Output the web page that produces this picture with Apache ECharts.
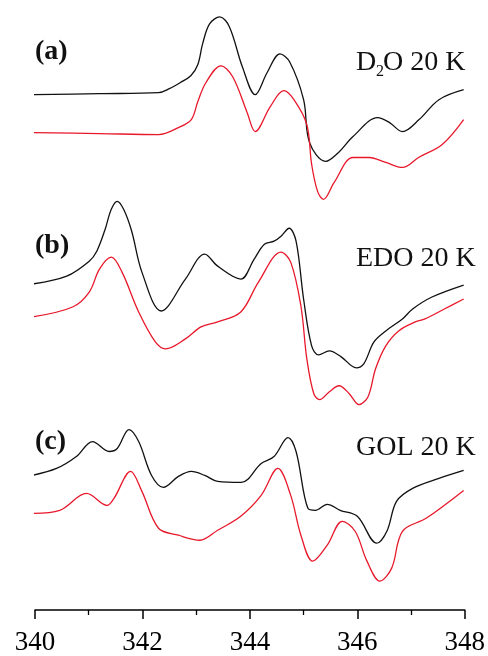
<!DOCTYPE html>
<html>
<head>
<meta charset="utf-8">
<script src="https://cdn.jsdelivr.net/npm/echarts@6/dist/echarts.min.js"></script>
<style>html,body{margin:0;padding:0;background:#fff}#c{width:488px;height:656px}</style>
</head>
<body>
<div id="c"></div>
<script>
// Magnetic field (mT) vs. EPR signal (arbitrary units, offset per trace)
const xTicks = [340, 342, 344, 346, 348];

const d2oBlack = [[339.94,517],[341.20,518],[342.30,519],[342.50,523],[342.70,529],[342.90,536],[343.03,547],[343.12,568],[343.25,588],[343.44,595],[343.62,585],[343.86,545],[344.10,517],[344.32,539],[344.56,558],[344.74,550],[345.00,512],[345.11,469],[345.41,450],[345.65,459],[345.92,475],[346.38,494],[346.60,489],[346.84,480],[347.15,492],[347.52,512],[347.98,522]];
const d2oRed = [[339.94,479],[341.20,478],[342.30,477],[342.67,484],[342.91,492],[343.03,510],[343.18,529],[343.46,546],[343.68,535],[343.95,499],[344.10,480],[344.38,505],[344.63,521],[344.82,512],[345.06,487],[345.15,447],[345.26,420],[345.37,412],[345.57,429],[345.92,454],[346.22,454],[346.53,449],[346.84,444],[347.14,454],[347.58,467],[347.98,492]];

const edoBlack = [[339.94,327],[340.59,335],[341.01,350],[341.15,360],[341.30,381],[341.42,402],[341.53,410],[341.65,402],[341.80,380],[341.99,339],[342.35,300],[342.80,332],[343.16,357],[343.40,345],[343.83,332],[344.08,352],[344.27,367],[344.45,370],[344.58,375],[344.73,383],[344.86,370],[345.00,312],[345.15,265],[345.28,256],[345.48,260],[345.70,254],[345.98,243],[346.12,247],[346.31,269],[346.53,280],[346.84,292],[347.03,302],[347.39,314],[347.98,326]];
const edoRed = [[339.94,294],[340.70,304],[341.01,319],[341.20,342],[341.42,354],[341.62,339],[341.93,299],[342.24,269],[342.43,262],[342.80,272],[343.09,284],[343.40,289],[343.83,299],[344.16,329],[344.58,359],[344.76,349],[344.95,305],[345.06,252],[345.19,217],[345.30,211],[345.48,219],[345.66,225],[345.85,217],[346.03,206],[346.20,214],[346.34,242],[346.53,265],[346.77,280],[347.08,289],[347.26,292],[347.62,302],[347.98,312]];

const golBlack = [[339.94,135],[340.40,142],[340.77,154],[341.07,169],[341.38,159],[341.53,162],[341.75,181],[341.93,169],[342.17,135],[342.39,123],[342.67,134],[342.91,139],[343.16,135],[343.40,129],[343.84,128],[344.21,147],[344.45,154],[344.71,173],[344.86,159],[345.08,102],[345.22,100],[345.44,106],[345.68,100],[346.00,94],[346.36,67],[346.55,79],[346.73,109],[347.03,122],[347.52,132],[347.98,140]];
const golRed = [[339.94,97],[340.46,100],[340.96,117],[341.34,105],[341.47,112],[341.78,139],[341.99,119],[342.30,82],[342.67,75],[343.07,70],[343.40,80],[343.83,94],[344.21,115],[344.52,142],[344.76,115],[344.95,75],[345.17,49],[345.44,65],[345.72,89],[345.96,79],[346.18,49],[346.42,29],[346.64,42],[346.84,79],[347.28,92],[347.98,120]];

const panelLabels = ['(a)', '(b)', '(c)'];
const sampleLabels = ['O 20 K', 'EDO 20 K', 'GOL 20 K'];

const BLACK = '#111111', RED = '#e8182b';
const serif = '"Liberation Serif","DejaVu Serif",serif';

function line(data, color) {
  return { type: 'line', data: data, showSymbol: false, smooth: 0.35,
    lineStyle: { color: color, width: 1.3 }, silent: true, animation: false };
}

const chart = echarts.init(document.getElementById('c'));
chart.setOption({
  animation: false,
  grid: { left: 35, right: 18, top: 0, bottom: 44 },
  xAxis: {
    type: 'value', min: 340, max: 348, interval: 2,
    axisLine: { lineStyle: { color: '#000', width: 1.5 } },
    axisTick: { inside: false, length: 9, lineStyle: { color: '#000', width: 1.5 } },
    minorTick: { show: true, splitNumber: 2, length: 5, lineStyle: { color: '#000', width: 1.3 } },
    splitLine: { show: false },
    axisLabel: { color: '#000', fontFamily: serif, fontSize: 27, margin: 19,
      formatter: v => xTicks.includes(v) ? String(v) : '' }
  },
  yAxis: { type: 'value', min: 0, max: 612, show: false, splitLine: { show: false } },
  series: [line(d2oBlack, BLACK), line(d2oRed, RED), line(edoBlack, BLACK), line(edoRed, RED), line(golBlack, BLACK), line(golRed, RED)],
  graphic: [
    { type: 'text', left: 35, top: 38, style: { text: panelLabels[0], font: 'bold 28px ' + serif, fill: '#111' } },
    { type: 'text', left: 35, top: 232, style: { text: panelLabels[1], font: 'bold 28px ' + serif, fill: '#111' } },
    { type: 'text', left: 35, top: 428, style: { text: panelLabels[2], font: 'bold 28px ' + serif, fill: '#111' } },
    { type: 'text', left: 356, top: 49, style: { text: 'D', font: '28px ' + serif, fill: '#111' } },
    { type: 'text', left: 376, top: 64, style: { text: '2', font: '16px ' + serif, fill: '#111' } },
    { type: 'text', left: 383, top: 49, style: { text: sampleLabels[0], font: '28px ' + serif, fill: '#111' } },
    { type: 'text', left: 356, top: 245, style: { text: sampleLabels[1], font: '28px ' + serif, fill: '#111' } },
    { type: 'text', left: 356, top: 434, style: { text: sampleLabels[2], font: '28px ' + serif, fill: '#111' } }
  ]
});
</script>
</body>
</html>
